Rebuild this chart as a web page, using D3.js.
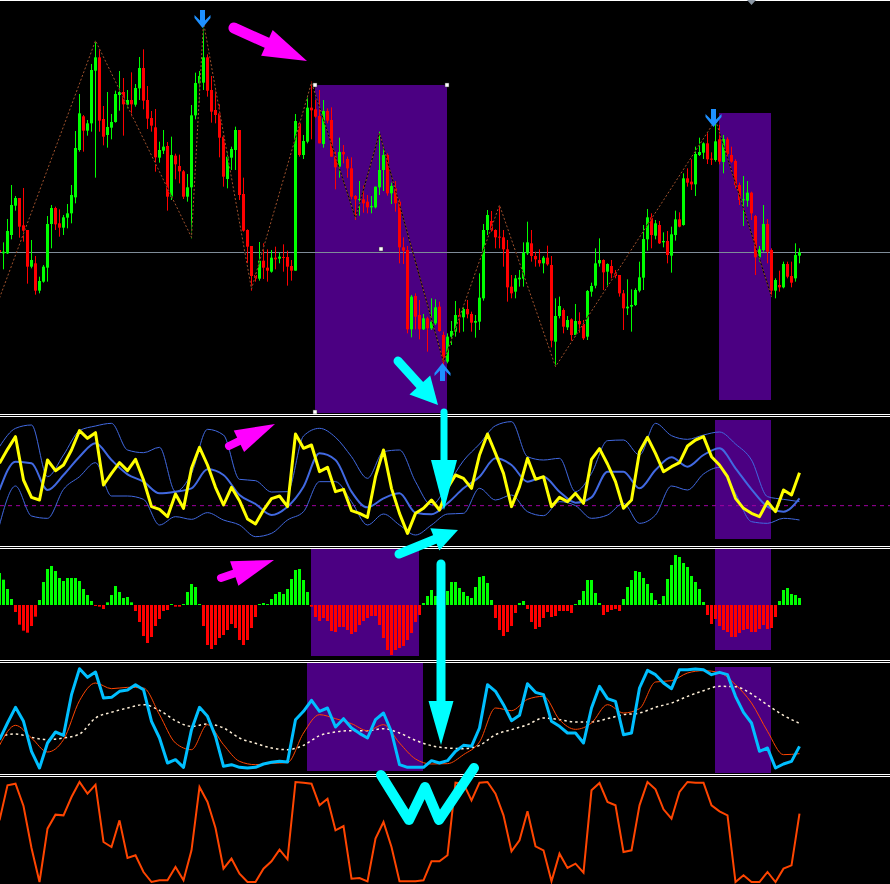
<!DOCTYPE html>
<html><head><meta charset="utf-8">
<script src="https://cdn.jsdelivr.net/npm/d3@7"></script>
<style>html,body{margin:0;padding:0;background:#000;overflow:hidden}svg{display:block}</style>
</head><body>
<script>
// ---------------- DATA ----------------
// Candles, index 0..200 (price in chart points)
const open = [550,540,540,595,683,706,624,610,500,510,428,455,497,628,676,630,617,647,660,708,850,951,908,930,1088,1128,943,895,917,934,1015,1024,986,1000,986,1035,1096,1000,946,918,827,848,862,710,833,802,786,710,738,954,1050,1052,1128,1030,970,960,890,763,827,850,910,718,610,562,475,464,518,497,485,527,524,529,529,502,488,930,835,875,977,972,952,868,967,940,830,800,844,823,795,712,700,702,695,678,678,738,790,835,720,735,695,558,550,312,412,355,312,345,315,330,380,295,215,290,305,355,348,373,358,332,335,405,610,637,610,590,588,552,440,425,462,464,540,570,532,520,510,527,505,275,352,370,318,342,295,337,328,290,425,443,510,520,485,502,480,475,420,375,380,385,428,467,582,648,593,625,573,577,533,595,642,625,765,755,747,835,842,870,824,820,882,814,882,835,817,745,700,698,722,652,528,550,628,550,428,445,438,508,472,465,533];
const high = [555,573,643,745,712,706,736,610,580,532,470,505,652,685,680,672,655,688,745,907,1018,955,940,1108,1178,1155,982,1024,958,1028,1087,1066,1030,1083,1048,1129,1152,1042,967,973,875,910,874,890,839,836,790,778,985,1082,1087,1235,1137,1072,1035,987,895,845,860,920,910,767,612,562,480,574,570,552,550,560,542,567,548,520,958,935,895,1015,1055,1000,1030,1000,975,978,845,887,865,830,828,715,757,743,715,712,740,905,863,840,752,757,702,588,562,415,420,400,358,350,405,402,395,305,300,337,397,375,380,400,365,355,480,628,670,667,612,685,610,580,475,475,490,573,635,610,545,552,532,563,532,405,410,375,352,345,388,363,340,430,452,555,585,522,510,520,490,475,430,462,432,435,515,625,673,660,640,637,603,607,620,668,663,780,795,822,860,887,873,904,843,940,925,895,888,860,822,752,772,757,725,655,562,685,643,555,465,488,515,515,515,570,555];
const low = [540,492,538,582,668,587,575,449,495,416,420,452,455,555,610,590,595,615,630,690,845,845,893,905,767,905,864,857,882,932,968,893,975,951,980,1000,972,913,905,785,812,838,668,700,762,750,703,695,585,942,992,1030,1010,932,930,828,740,735,790,790,700,605,510,428,455,458,463,455,482,492,510,485,443,458,488,830,823,870,882,947,870,857,930,830,732,767,810,767,702,640,653,662,660,660,675,715,727,713,688,665,510,508,300,288,312,282,310,245,310,325,305,185,210,265,290,302,305,345,305,287,310,398,595,605,555,555,500,395,405,405,440,440,535,515,500,500,480,503,258,200,345,300,310,278,290,302,280,280,410,435,500,430,442,465,465,410,310,355,305,382,423,430,548,555,582,568,558,510,482,578,618,623,740,730,712,832,823,808,805,815,807,780,830,812,735,685,622,680,640,475,515,545,510,410,405,425,435,465,438,455,510];
const close = [544,545,607,685,706,620,608,500,520,428,457,500,628,676,627,617,648,660,715,856,960,908,930,1090,1128,938,890,919,934,1018,1024,987,1000,987,1036,1096,998,944,923,828,850,860,710,835,807,786,710,738,954,1051,1072,1128,1028,965,955,887,770,830,853,910,715,608,560,472,464,518,497,488,527,522,530,527,500,488,937,835,877,977,969,950,870,967,938,830,798,844,837,795,710,702,703,690,678,682,740,790,835,720,742,690,558,548,312,410,350,312,345,315,335,378,307,215,290,307,355,348,373,357,332,337,407,610,655,608,588,588,552,438,420,465,467,542,573,532,522,510,527,507,278,352,382,320,340,295,337,327,285,427,442,510,520,483,508,480,472,420,375,380,385,430,468,583,648,595,630,570,577,535,597,642,620,765,752,747,838,844,870,822,821,876,815,883,838,815,745,700,702,722,660,528,552,628,545,428,460,438,508,470,452,535,543];
const priceLine = 544;                      // horizontal level line
const zigIdx   = [0,24,48,51,63,78,89,95,111,125,139,179,193];
const zigPrice = [406,1178,588,1234,433,1052,646,901,214,685,200,940,410];

// Oscillator panel 2 (yellow every 2nd bar, bands every 4th bar)
const yellowVals = [240,282,320,190,138,130,250,218,235,280,338,315,332,175,210,242,218,252,190,110,102,80,148,105,225,288,235,168,115,168,128,73,58,100,134,142,110,328,285,295,215,228,155,162,98,90,78,200,280,165,90,30,90,105,130,100,165,205,195,165,265,328,270,210,110,170,255,192,200,110,138,125,150,120,252,284,238,185,105,130,275,318,270,215,230,242,292,310,320,260,235,200,135,105,90,80,125,95,160,145,212];
const bandMid   = [160,245,240,160,205,260,300,250,207,185,150,155,165,222,205,145,118,85,110,170,270,250,155,108,135,150,92,87,120,165,200,255,235,185,200,155,122,138,215,215,165,220,258,230,265,285,225,162,110,95,135];
const bandUpper = [290,345,355,200,265,338,352,360,280,272,288,155,210,342,325,192,188,154,155,322,345,318,260,195,275,280,185,115,175,248,298,353,365,260,250,255,155,210,308,310,265,360,323,312,325,334,298,250,140,132,125];
const bandLower = [55,172,82,75,162,200,242,142,142,132,55,80,72,92,70,55,20,30,70,95,185,185,125,55,88,55,25,55,88,90,165,130,145,95,83,125,113,75,85,120,60,85,172,160,208,228,150,65,60,75,70];
const p2Level = 113;

// Histogram panel 3 (every bar)
const histVals = [96,76,48,18,-21,-59,-77,-83,-63,-35,15,69,108,117,102,81,72,81,81,81,72,48,30,12,-3,-5,-12,8,30,57,39,21,24,8,-18,-51,-93,-114,-96,-63,-42,-18,-15,3,-5,-5,3,39,63,54,3,-63,-120,-132,-120,-99,-90,-75,-57,-69,-105,-120,-105,-69,-36,3,6,3,18,33,39,33,48,78,105,108,75,39,-5,-36,-48,-39,-48,-78,-81,-66,-66,-75,-87,-81,-60,-48,-39,-33,-33,-60,-99,-135,-150,-135,-129,-123,-105,-84,-51,-30,6,27,45,27,30,35,42,69,69,51,39,27,21,54,84,87,66,15,-39,-75,-93,-81,-63,-24,6,12,-12,-51,-72,-66,-39,-21,-36,-33,-18,-18,-18,-24,3,15,42,75,75,36,6,-30,-21,-15,-12,-18,18,54,75,102,99,81,63,36,15,3,27,78,120,150,144,126,114,87,69,48,9,-30,-57,-42,-63,-75,-81,-96,-96,-84,-75,-72,-81,-81,-72,-60,-72,-69,-36,12,45,51,33,30,21];

// Panel 4 (cyan every 2nd bar, signal & slow every 4th bar)
const cyanVals = [115,165,212,170,80,30,105,138,128,250,328,302,318,240,242,260,264,280,265,170,120,45,55,32,145,212,185,125,35,40,32,30,32,42,47,50,48,175,200,233,200,210,153,178,150,134,120,175,195,138,40,32,32,32,52,45,52,80,98,95,150,280,260,220,172,188,283,257,250,170,155,135,135,105,210,275,238,230,130,135,270,323,310,285,268,325,325,327,325,310,317,310,245,197,165,80,90,30,42,50,95];
const signalVals = [98,158,120,78,115,232,285,268,272,270,190,105,85,160,100,50,40,44,46,135,190,178,163,142,160,105,57,42,43,70,108,210,202,236,245,175,146,165,220,195,208,288,292,315,322,316,280,225,140,70,73];
const slowVals = [125,132,122,115,120,132,180,197,210,220,203,172,155,162,150,120,104,90,85,98,127,138,142,142,148,135,113,97,90,88,98,130,145,160,180,175,168,168,178,190,195,212,225,245,262,275,274,252,219,188,164];

// Panel 5 (every 2nd bar)
const orangeVals = [195,300,305,238,112,10,170,212,210,265,310,275,302,130,115,195,82,90,40,10,15,15,55,15,105,295,250,172,50,80,35,10,10,50,72,107,78,310,308,305,240,260,165,178,20,22,12,140,190,115,12,12,12,15,72,72,90,308,305,255,308,310,275,210,102,135,222,117,105,12,95,52,65,38,285,307,250,240,100,105,240,310,288,228,200,280,310,308,308,240,222,210,10,30,10,10,40,10,50,60,215];

// Highlight zones: [panel, fromBar, toBar, topValue, bottomValue]
const zones = [
  ["main", 78.875, 111.875, 1045, 61],
  ["main", 179.875, 192.875, 961, 100],
  ["p2", 178.875, 192.875, 370, 13],
  ["p3", 77.875, 104.875, 168, -153],
  ["p3", 178.875, 192.875, 168, -135],
  ["p4", 76.875, 105.875, 345, 21],
  ["p4", 178.875, 192.875, 333, 15]
];
// Drawn arrows: [panel, fromBar, fromValue, toBar, toValue, headLen, headHalf, width, colour]
const arrows = [
  ["main", 58.625, 1216, 76.875, 1117, 44, 14, 11, "#ff00ff"],
  ["p2", 57.375, 292, 68.875, 358, 40, 12, 8, "#ff00ff"],
  ["p3", 55.375, 81, 68.625, 135, 42, 13, 8, "#ff00ff"],
  ["main", 99.625, 217, 109.625, 85, 27, 14, 9, "#00ffff"],
  ["p2", 111.125, 394, 111.125, 100, 50, 13, 7, "#00ffff"],
  ["p3", 99.875, 153, 114.625, 225, 25, 12, 9, "#00ffff"],
  ["p3", 110.375, 123, 110.375, -420, 44, 12.5, 9, "#00ffff"]
];
const wBars = [95.375, 102.375, 106.375, 109.875, 118.625];
const wVals = [331, 196, 295, 196, 352];
// Signal arrows on price: [bar, price, direction]
const signals = [[50.75, 1216, "down"], [178.5, 919, "down"], [110.75, 211, "up"]];

// ---------------- DRAWING ----------------
const W = 890, H = 884;
const svg = d3.select("body").append("svg").attr("width", W).attr("height", H).style("background", "#000");
const x = d3.scaleLinear().domain([0, 200]).range([-0.5, 799.5]);
const panels = {
  main: {top: 1, bottom: 414, y: d3.scaleLinear().domain([0, 1300]).range([433.333, 0])},
  p2:   {top: 417, bottom: 546, y: d3.scaleLinear().domain([0, 400]).range([543.333, 410])},
  p3:   {top: 549, bottom: 660, y: d3.scaleLinear().domain([-150, 150]).range([655, 555])},
  p4:   {top: 663, bottom: 774, y: d3.scaleLinear().domain([0, 360]).range([778, 658])},
  p5:   {top: 777, bottom: 884, y: d3.scaleLinear().domain([0, 340]).range([885.333, 772])}
};
const defs = svg.append("defs");
const G = {};
Object.entries(panels).forEach(([name, p]) => {
  defs.append("clipPath").attr("id", "clip-" + name).append("rect")
    .attr("x", 0).attr("y", p.top).attr("width", W).attr("height", p.bottom - p.top);
  G[name] = svg.append("g").attr("clip-path", `url(#clip-${name})`);
});

// zones
zones.forEach(([pn, k0, k1, v0, v1]) => {
  const ys = panels[pn].y;
  G[pn].append("rect").attr("x", x(k0)).attr("width", x(k1) - x(k0))
    .attr("y", ys(v0)).attr("height", ys(v1) - ys(v0)).attr("fill", "#4b0082");
});

// ---- main panel ----
const yM = panels.main.y;
const gm = G.main;
const lvlY = Math.round(yM(priceLine)) + 0.5;
gm.append("line").attr("x1", 0).attr("x2", W).attr("y1", lvlY).attr("y2", lvlY)
  .attr("stroke", "#7f8c99").attr("stroke-width", 1);

const candles = open.map((o, i) => ({k: i, o, h: high[i], l: low[i], c: close[i]}));
const cg = gm.append("g");
cg.selectAll("line.wick").data(candles).join("line").attr("class", "wick")
  .attr("x1", d => x(d.k)).attr("x2", d => x(d.k))
  .attr("y1", d => yM(d.h)).attr("y2", d => yM(d.l))
  .attr("stroke", d => d.c >= d.o ? "#00ff00" : "#ff0000").attr("stroke-width", 1);
cg.selectAll("rect.body").data(candles).join("rect").attr("class", "body")
  .attr("x", d => x(d.k) - 1.5).attr("width", 3)
  .attr("y", d => yM(Math.max(d.o, d.c)))
  .attr("height", d => Math.max(1, Math.abs(yM(d.o) - yM(d.c))))
  .attr("fill", d => d.c >= d.o ? "#00ff00" : "#ff0000");

const zz = zigIdx.map((k, i) => [x(k), yM(zigPrice[i])]);
gm.append("path").attr("d", d3.line()(zz)).attr("fill", "none").attr("stroke", "#000").attr("stroke-width", 1);
gm.append("path").attr("d", d3.line()(zz)).attr("fill", "none").attr("stroke", "#a0522d")
  .attr("stroke-width", 1).attr("stroke-dasharray", "2,2");

// handles of the selected rectangle
{
  const [pn, k0, k1, v0, v1] = zones[0];
  const hx0 = x(k0), hx1 = x(k1), hy0 = yM(v0), hy1 = yM(v1);
  [[hx0, hy0], [hx1, hy0], [(hx0 + hx1) / 2, (hy0 + hy1) / 2], [hx0, hy1 - 1]].forEach(([hx, hy]) => {
    gm.append("rect").attr("x", hx - 2).attr("y", hy - 2).attr("width", 4).attr("height", 4)
      .attr("fill", "#fff").attr("stroke", "#333").attr("stroke-width", 0.5);
  });
}

// ---- panel 2 ----
const y2 = panels.p2.y;
const idx2 = d3.range(0, 201, 2), idx4 = d3.range(0, 201, 4);
G.p2.append("line").attr("x1", 0).attr("x2", W).attr("y1", y2(p2Level)).attr("y2", y2(p2Level))
  .attr("stroke", "#a000a0").attr("stroke-width", 1).attr("stroke-dasharray", "4,4");
const smooth = (vals, ys) => d3.line().curve(d3.curveMonotoneX).x((d, i) => x(idx4[i])).y(d => ys(d))(vals);
const jag = (vals, ys) => d3.line().x((d, i) => x(idx2[i])).y(d => ys(d))(vals);
G.p2.append("path").attr("d", smooth(bandUpper, y2)).attr("fill", "none").attr("stroke", "#4169e1").attr("stroke-width", 1);
G.p2.append("path").attr("d", smooth(bandLower, y2)).attr("fill", "none").attr("stroke", "#4169e1").attr("stroke-width", 1);
G.p2.append("path").attr("d", smooth(bandMid, y2)).attr("fill", "none").attr("stroke", "#4169e1").attr("stroke-width", 2);
G.p2.append("path").attr("d", jag(yellowVals, y2)).attr("fill", "none").attr("stroke", "#ffff00").attr("stroke-width", 3).attr("stroke-linejoin", "round");

// ---- panel 3 ----
const y3 = panels.p3.y;
G.p3.selectAll("rect.bar").data(histVals).join("rect").attr("class", "bar")
  .attr("x", (d, i) => x(i) - 1.5).attr("width", 3)
  .attr("y", d => Math.min(y3(0), y3(d)))
  .attr("height", d => Math.max(1, Math.abs(y3(d) - y3(0))))
  .attr("fill", d => d >= 0 ? "#00ff00" : "#ff0000");

// ---- panel 4 ----
const y4 = panels.p4.y;
G.p4.append("path").attr("d", smooth(slowVals, y4)).attr("fill", "none").attr("stroke", "#fff0d8")
  .attr("stroke-width", 1.5).attr("stroke-dasharray", "2.5,3");
G.p4.append("path").attr("d", smooth(signalVals, y4)).attr("fill", "none").attr("stroke", "#ff4500").attr("stroke-width", 1);
G.p4.append("path").attr("d", jag(cyanVals, y4)).attr("fill", "none").attr("stroke", "#00bfff").attr("stroke-width", 3).attr("stroke-linejoin", "round");

// ---- panel 5 ----
const y5 = panels.p5.y;
G.p5.append("path").attr("d", jag(orangeVals, y5)).attr("fill", "none").attr("stroke", "#ff4500").attr("stroke-width", 2);

// ---- separators ----
[0, 414, 416, 546, 548, 660, 662, 774, 776].forEach(r => {
  svg.append("line").attr("x1", 0).attr("x2", W).attr("y1", r + 0.5).attr("y2", r + 0.5)
    .attr("stroke", "#fff").attr("stroke-width", 1);
});
// chart-shift marker
{
  const mx = x(188);
  svg.append("path").attr("d", `M${mx - 4.5},0L${mx + 4.5},0L${mx},5Z`).attr("fill", "#8a96a3");
}

// ---- signal arrows ----
signals.forEach(([k, p, dir]) => {
  const tx = x(k), ty = yM(p), s = dir === "down" ? 1 : -1;
  const pts = [[0, 0], [-8, -10], [-8, -13], [-2.5, -7.5], [-2.5, -18], [2.5, -18], [2.5, -7.5], [8, -13], [8, -10]];
  svg.append("path").attr("d", "M" + pts.map(([a, b]) => `${tx + a},${ty + s * b}`).join("L") + "Z")
    .attr("fill", "#1e90ff");
});

// ---- drawn arrows ----
const ann = svg.append("g");
arrows.forEach(([pn, k1, v1, k2, v2, hl, hw, sw, col]) => {
  const ys = panels[pn].y;
  const x1 = x(k1), yy1 = ys(v1), x2 = x(k2), yy2 = ys(v2);
  const dx = x2 - x1, dy = yy2 - yy1, L = Math.hypot(dx, dy), ux = dx / L, uy = dy / L, px = -uy, py = ux;
  const bx = x2 - ux * hl, by = yy2 - uy * hl;
  ann.append("line").attr("x1", x1).attr("y1", yy1).attr("x2", bx + ux * 3).attr("y2", by + uy * 3)
    .attr("stroke", col).attr("stroke-width", sw).attr("stroke-linecap", "round");
  ann.append("path").attr("d", `M${x2},${yy2}L${bx + px * hw},${by + py * hw}L${bx - px * hw},${by - py * hw}Z`).attr("fill", col);
});
ann.append("path").attr("d", d3.line().x((d, i) => x(wBars[i])).y(d => y5(d))(wVals))
  .attr("fill", "none").attr("stroke", "#00ffff").attr("stroke-width", 10)
  .attr("stroke-linecap", "round").attr("stroke-linejoin", "round");
</script>
</body></html>
